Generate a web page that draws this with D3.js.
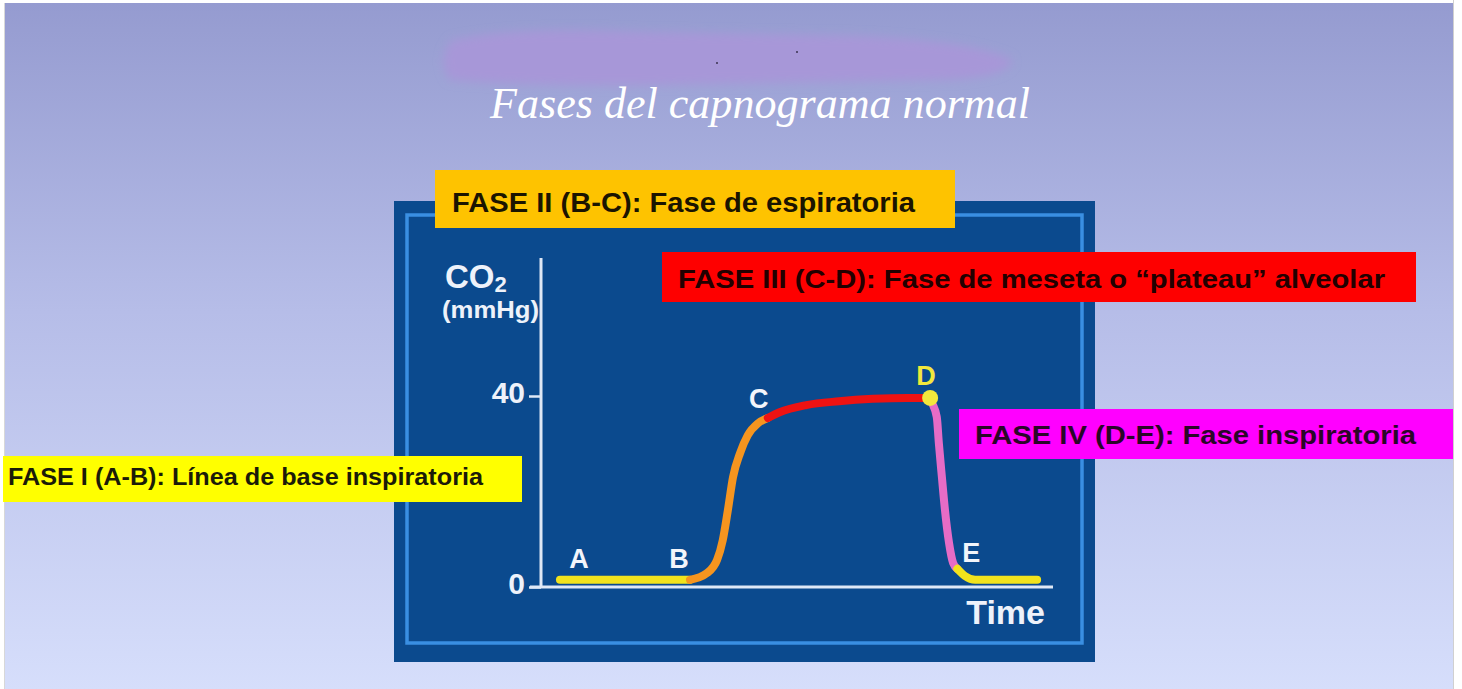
<!DOCTYPE html>
<html>
<head>
<meta charset="utf-8">
<script src="https://cdn.jsdelivr.net/npm/d3@7"></script>
<style>
  body { margin: 0; background: #ffffff; }
  svg { display: block; }
</style>
</head>
<body>
<div id="plot"></div>
<script>
// curve values (time in arbitrary units, CO2 in mmHg)
const phase1Time = [3.7, 16, 29.1];
const phase1CO2  = [1.5, 1.5, 1.5];
const phase2Time = [29.1, 32.4, 34.4, 35.5, 36.5, 37.5, 38.9, 40.4, 42.4, 44.3];
const phase2CO2  = [1.5, 2.9, 5.7, 9.8, 16.1, 23.0, 28.1, 31.8, 34.3, 35.4];
const phase3Time = [44.3, 46.6, 51.8, 58.2, 64.8, 71.5, 75.4, 76.0];
const phase3CO2  = [35.4, 36.6, 38.1, 38.9, 39.4, 39.6, 39.6, 39.6];
const phase4Time = [76.0, 76.4, 77.3, 77.7, 78.3, 78.9, 79.7, 80.5, 81.3];
const phase4CO2  = [39.6, 38.5, 35.6, 30.2, 23.0, 16.1, 9.2, 5.0, 3.8];
const tailTime   = [81.3, 82.8, 84.8, 87.7, 96.9];
const tailCO2    = [3.8, 2.3, 1.5, 1.5, 1.5];

const yTicks = [0, 40];
const pointNames = ['A', 'B', 'C', 'D', 'E'];

const phaseLabels = [
  'FASE I (A-B): Línea de base inspiratoria',
  'FASE II (B-C): Fase de espiratoria',
  'FASE III (C-D): Fase de meseta o “plateau” alveolar',
  'FASE IV (D-E): Fase inspiratoria'
];

let width = 1462, height = 689;

let svg = d3.select('#plot')
  .append('svg')
    .attr('width', width)
    .attr('height', height);

let defs = svg.append('defs');
let grad = defs.append('linearGradient')
    .attr('id', 'bg').attr('x1', 0).attr('y1', 0).attr('x2', 0).attr('y2', 1);
grad.append('stop').attr('offset', '0%').attr('stop-color', '#959bd0');
grad.append('stop').attr('offset', '45%').attr('stop-color', '#b6bde8');
grad.append('stop').attr('offset', '100%').attr('stop-color', '#d6defb');

let blur = defs.append('filter').attr('id', 'blur')
    .attr('x', '-20%').attr('y', '-50%').attr('width', '140%').attr('height', '200%');
blur.append('feGaussianBlur').attr('stdDeviation', 5);

// slide background
svg.append('rect')
    .attr('x', 4).attr('y', 3)
    .attr('width', 1449).attr('height', 686)
    .attr('fill', 'url(#bg)');
svg.append('line')
    .attr('x1', 4.5).attr('x2', 4.5).attr('y1', 3).attr('y2', 689)
    .attr('stroke', '#d8d8d8');
svg.append('line')
    .attr('x1', 1453.5).attr('x2', 1453.5).attr('y1', 0).attr('y2', 689)
    .attr('stroke', '#d0d0d0');

// purple smear above title
svg.append('path')
    .attr('d', 'M452,40 Q520,26 640,32 L860,36 Q980,42 1012,60 Q1010,78 940,80 L700,84 Q560,88 450,80 Q436,60 452,40 Z')
    .attr('fill', '#a797d8')
    .attr('filter', 'url(#blur)');
svg.append('circle').attr('cx', 717).attr('cy', 63).attr('r', 1).attr('fill', '#3a3050');
svg.append('circle').attr('cx', 797).attr('cy', 52).attr('r', 1).attr('fill', '#3a3050');

// title
let title = svg.append('text')
    .attr('x', 760).attr('y', 118)
    .attr('text-anchor', 'middle')
    .attr('font-family', 'Liberation Serif, DejaVu Serif, serif')
    .attr('font-style', 'italic')
    .attr('font-size', 48)
    .attr('fill', '#ffffff')
    .text('Fases del capnograma normal');
let tw = title.node().getComputedTextLength();
title.attr('font-size', 48 * 540 / tw);

// blue panel
svg.append('rect')
    .attr('x', 394).attr('y', 201)
    .attr('width', 701).attr('height', 461)
    .attr('fill', '#0b4a8e');
svg.append('rect')
    .attr('x', 407).attr('y', 215)
    .attr('width', 675).attr('height', 428)
    .attr('fill', 'none')
    .attr('stroke', '#3a8fe2')
    .attr('stroke-width', 3.5);

// scales
let xScale = d3.scaleLinear().domain([0, 100]).range([541, 1053]);
let yScale = d3.scaleLinear().domain([0, 40]).range([587, 396]);

let axisColor = '#dfe8f6';
let labelFont = 'Liberation Sans, Arial, sans-serif';

// y axis
let yAxis = svg.append('g')
    .attr('transform', 'translate(541,0)')
    .call(d3.axisLeft(yScale).tickValues(yTicks).tickSize(12).tickPadding(4).tickFormat(d3.format('d')));
yAxis.select('.domain').remove();
yAxis.selectAll('.tick line').attr('stroke', axisColor).attr('stroke-width', 2.5);
yAxis.selectAll('.tick text')
    .attr('fill', '#eef2fa')
    .attr('font-family', labelFont)
    .attr('font-weight', 'bold')
    .attr('font-size', 30)
    .attr('dy', '0.2em');
yAxis.append('line')
    .attr('x1', 0).attr('x2', 0)
    .attr('y1', 258).attr('y2', 587)
    .attr('stroke', axisColor).attr('stroke-width', 3);

// x axis
let xAxis = svg.append('g')
    .attr('transform', `translate(0,${yScale(0)})`)
    .call(d3.axisBottom(xScale).tickValues([]).tickSizeOuter(0));
xAxis.select('.domain')
    .attr('d', `M530,0H${xScale(100)}`)
    .attr('stroke', axisColor).attr('stroke-width', 3);

// axis titles
let co2 = svg.append('text')
    .attr('x', 445).attr('y', 288)
    .attr('font-family', labelFont).attr('font-weight', 'bold')
    .attr('font-size', 33).attr('fill', '#eef2fa');
co2.append('tspan').text('CO');
co2.append('tspan').attr('font-size', 22).attr('dy', 4).text('2');
svg.append('text')
    .attr('x', 442).attr('y', 318)
    .attr('font-family', labelFont).attr('font-weight', 'bold')
    .attr('font-size', 23)
    .attr('textLength', 97)
    .attr('lengthAdjust', 'spacingAndGlyphs')
    .attr('fill', '#eef2fa')
    .text('(mmHg)');
svg.append('text')
    .attr('x', 1045).attr('y', 624)
    .attr('text-anchor', 'end')
    .attr('font-family', labelFont).attr('font-weight', 'bold')
    .attr('font-size', 34).attr('fill', '#eef2fa')
    .text('Time');

// curve segments
let line = d3.line()
  .x(d => xScale(d[0]))
  .y(d => yScale(d[1]))
  .curve(d3.curveMonotoneX);

let segments = [
  { time: phase1Time, co2: phase1CO2, color: '#f2e31c' },
  { time: phase2Time, co2: phase2CO2, color: '#f6951f' },
  { time: phase3Time, co2: phase3CO2, color: '#ee1212' },
  { time: phase4Time, co2: phase4CO2, color: '#e66cc6' },
  { time: tailTime,   co2: tailCO2,   color: '#f2e31c' }
];

svg.selectAll('path.seg')
    .data(segments)
  .enter()
  .append('path')
    .attr('class', 'seg')
    .attr('d', d => line(d.time.map((t, i) => [t, d.co2[i]])))
    .attr('fill', 'none')
    .attr('stroke', d => d.color)
    .attr('stroke-width', 8)
    .attr('stroke-linecap', 'round');

// point D marker
svg.append('circle')
    .attr('cx', xScale(phase3Time[phase3Time.length - 1]))
    .attr('cy', yScale(phase3CO2[phase3CO2.length - 1]))
    .attr('r', 8)
    .attr('fill', '#f3e83c');

// point letters
let anchors = [
  [phase1Time[0], phase1CO2[0]],
  [phase1Time[phase1Time.length - 1], phase1CO2[phase1CO2.length - 1]],
  [phase2Time[phase2Time.length - 1], phase2CO2[phase2CO2.length - 1]],
  [phase3Time[phase3Time.length - 1], phase3CO2[phase3CO2.length - 1]],
  [phase4Time[phase4Time.length - 1], phase4CO2[phase4CO2.length - 1]]
];
let letterOffsets = [[19, -12], [-11, -12], [-9, -10], [-4, -13], [14, -7]];

svg.selectAll('text.pt')
    .data(pointNames)
  .enter()
  .append('text')
    .attr('class', 'pt')
    .attr('x', (d, i) => xScale(anchors[i][0]) + letterOffsets[i][0])
    .attr('y', (d, i) => yScale(anchors[i][1]) + letterOffsets[i][1])
    .attr('text-anchor', 'middle')
    .attr('font-family', labelFont).attr('font-weight', 'bold')
    .attr('font-size', 27)
    .attr('fill', d => d === 'D' ? '#f3e83c' : '#f2f5fb')
    .text(d => d);

// phase boxes
let boxes = [
  { x: 3,   y: 456, w: 519, h: 46, fill: '#ffff00', tx: 8,   ty: 485, tl: 475, fs: 24, tc: '#1b1b08' },
  { x: 435, y: 170, w: 520, h: 58, fill: '#fec300', tx: 452, ty: 212, tl: 463, fs: 27, tc: '#1b1400' },
  { x: 662, y: 252, w: 754, h: 50, fill: '#fe0000', tx: 678, ty: 288, tl: 707, fs: 25, tc: '#220000' },
  { x: 959, y: 409, w: 494, h: 50, fill: '#ff00ff', tx: 975, ty: 444, tl: 441, fs: 25, tc: '#2a0628' }
];

let boxG = svg.selectAll('g.box')
    .data(boxes)
  .enter()
  .append('g')
    .attr('class', 'box');

boxG.append('rect')
    .attr('x', d => d.x).attr('y', d => d.y)
    .attr('width', d => d.w).attr('height', d => d.h)
    .attr('fill', d => d.fill);

boxG.append('text')
    .attr('x', d => d.tx).attr('y', d => d.ty)
    .attr('font-family', labelFont).attr('font-weight', 'bold')
    .attr('font-size', d => d.fs)
    .attr('textLength', d => d.tl)
    .attr('lengthAdjust', 'spacingAndGlyphs')
    .attr('fill', d => d.tc)
    .text((d, i) => phaseLabels[i]);
</script>
</body>
</html>
